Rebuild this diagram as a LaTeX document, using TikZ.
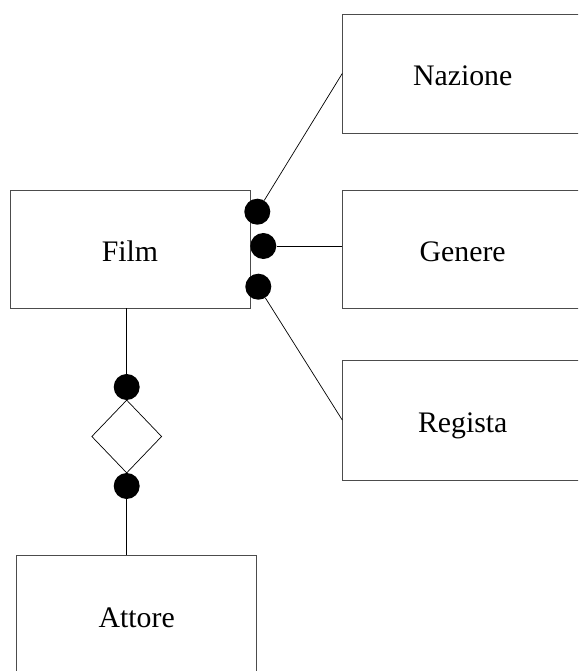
\documentclass[tikz,border=0pt]{standalone}
\usepackage{fontspec}
\setmainfont{Liberation Serif}
\usetikzlibrary{shapes.geometric}
\tikzset{
  entita/.style={draw=black!70,line width=0.9pt,rectangle,minimum width=240pt,minimum height=118pt,inner sep=0pt,text height=25pt,text depth=0pt,font=\fontsize{29.8pt}{34pt}\selectfont},
  relaz/.style={draw,line width=0.7pt,diamond,minimum width=70pt,minimum height=73pt,inner sep=0pt},
  pallino/.style={circle,fill=black,minimum size=26pt,inner sep=0pt},
  linea/.style={line width=0.7pt}
}
\begin{document}
\begin{tikzpicture}[x=1pt,y=-1pt]
\useasboundingbox (0,0) rectangle (578,671);
\begin{scope}
\clip (0,0) rectangle (578,671);

% entita
\node[entita] (film) at (130,249) {Film};
\node[entita,minimum height=119pt] (nazione) at (462.7,73.5) {Nazione};
\node[entita] (genere) at (462.7,249) {Genere};
\node[entita,minimum height=120pt] (regista) at (462.7,420) {Regista};
\node[entita,minimum height=120pt] (attore) at (136.7,615) {Attore};

% relazione
\node[relaz] (recita) at (126.7,436.5) {};

% pallini
\node[pallino] (p1) at (257.3,211.7) {};
\node[pallino] (p2) at (263.3,246) {};
\node[pallino] (p3) at (258.3,286.7) {};
\node[pallino] (p4) at (126.7,387) {};
\node[pallino] (p5) at (126.7,486) {};

% collegamenti
\draw[linea] (p1) -- (nazione.west);
\draw[linea] (p2) -- (p2 -| genere.west);
\draw[linea] (p3) -- (regista.west);
\draw[linea] (p4) -- (p4 |- film.south);
\draw[linea] (p5) -- (p5 |- attore.north);
\end{scope}
\end{tikzpicture}
\end{document}
